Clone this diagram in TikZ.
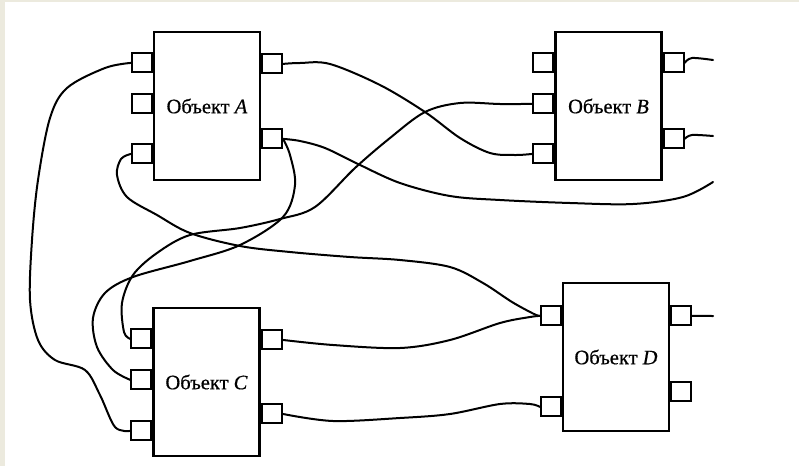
\documentclass[tikz,border=0pt]{standalone}
\usepackage{fontspec}
\setmainfont{Liberation Serif}
\usetikzlibrary{calc}
\definecolor{paper}{RGB}{236,234,222}
\tikzset{
  block/.style={draw, line width=2.2pt, minimum width=106pt, minimum height=148pt,
    inner sep=0pt, font=\fontsize{20.5}{22}\selectfont\addfontfeature{FakeBold=0.6}},
  port/.style={draw, line width=2pt, fill=white, minimum width=20pt,
    minimum height=19pt, inner sep=0pt},
  wire/.style={line width=2pt, line cap=round, line join=round},
}
\begin{document}
\begin{tikzpicture}[x=1pt,y=-1pt]
\useasboundingbox (0,0) rectangle (799,466);
\fill[paper] (0,0) rectangle (799,466);
\fill[white] (4.5,2) rectangle (799,466);

% block centres
\coordinate (Apos) at (207,106);
\coordinate (Bpos) at (608.5,106);
\coordinate (Cpos) at (206.5,382);
\coordinate (Dpos) at (616,357);

% ports, placed relative to the top corners of each block
\newcommand{\lport}[3]{\node[port, anchor=east] (#1) at ($(#2.north west)+(0,#3)$) {};}
\newcommand{\rport}[3]{\node[port, anchor=west] (#1) at ($(#2.north east)+(0,#3)$) {};}

\node[block] (A) at (Apos) {};
\node[block] (B) at (Bpos) {};
\node[block] (C) at (Cpos) {};
\node[block] (D) at (Dpos) {};

\lport{AL1}{A}{32} \lport{AL2}{A}{73} \lport{AL3}{A}{123}
\rport{AR1}{A}{33} \rport{AR2}{A}{108}
\lport{BL1}{B}{32} \lport{BL2}{B}{73} \lport{BL3}{B}{123}
\rport{BR1}{B}{32} \rport{BR2}{B}{108}
\lport{CL1}{C}{32} \lport{CL2}{C}{73} \lport{CL3}{C}{124}
\rport{CR1}{C}{33} \rport{CR2}{C}{107}
\lport{DL1}{D}{34} \lport{DL2}{D}{125}
\rport{DR1}{D}{34} \rport{DR2}{D}{110}

\node[block] at (Apos) {Объект \textit{A}};
\node[block] at (Bpos) {Объект \textit{B}};
\node[block] at (Cpos) {Объект \textit{C}};
\node[block] at (Dpos) {Объект \textit{D}};

% loose wire ends at the right margin
\coordinate (EB1) at (713,60);
\coordinate (EB2) at (713,136);
\coordinate (EA2) at (713,182);
\coordinate (ED1) at (713,316);

% connections
\draw[wire] plot[smooth, tension=0.55] coordinates
  {(AL1.west) (105,68) (67,88) (50,118) (38,180) (32,240) (30,300) (38,340) (55,360) (85,370) (100,395) (115,427) (CL3.west)};
\draw[wire] plot[smooth, tension=0.55] coordinates
  {(AR1.east) (300,63) (330,64) (380,85) (425,112) (460,138) (490,153) (515,155) (BL3.west)};
\draw[wire] plot[smooth, tension=0.55] coordinates
  {(BL2.west) (500,104) (460,103) (425,112) (390,138) (355,168) (315,207) (280,219) (240,228) (190,235) (157,253) (133,275) (122,303) (124,332) (CL1.west)};
\draw[wire] plot[smooth, tension=0.55] coordinates
  {(AR2.east) (300,141) (325,148) (358,164) (400,183) (450,196) (500,200) (570,203) (633,204) (683,197) (EA2)};
\draw[wire] plot[smooth, tension=0.55] coordinates
  {(AR2.east) (290,155) (295,185) (283,217) (240,245) (190,261) (133,277) (105,293) (93,318) (97,347) (113,370) (CL2.west)};
\draw[wire] plot[smooth, tension=0.55] coordinates
  {(AL3.west) (121,159) (117,175) (127,197) (157,215) (190,233) (240,246) (290,252) (350,257) (400,260) (450,267) (483,283) (512,302) (534,314) (DL1.west)};
\draw[wire] plot[smooth, tension=0.55] coordinates
  {(CR1.east) (333,345) (400,348) (450,340) (500,323) (530,317) (DL1.west)};
\draw[wire] plot[smooth, tension=0.55] coordinates
  {(CR2.east) (333,421) (400,418) (450,414) (500,404) (530,404) (DL2.west)};
\draw[wire] plot[smooth, tension=0.55] coordinates
  {(BR1.east) (692,58) (EB1)};
\draw[wire] plot[smooth, tension=0.55] coordinates
  {(BR2.east) (692,135) (EB2)};
\draw[wire] (DR1.east) -- (ED1);
\end{tikzpicture}
\end{document}
